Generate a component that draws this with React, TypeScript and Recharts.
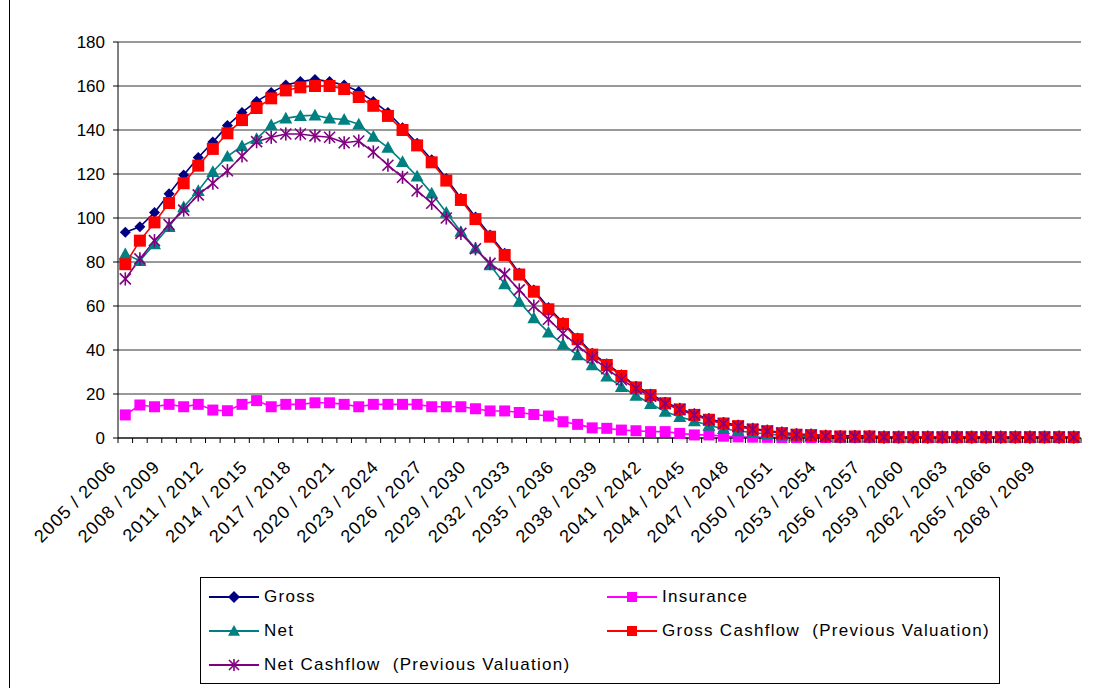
import React from 'react';
import { LineChart, Line, XAxis, YAxis, CartesianGrid } from 'recharts';

const categories = [
  '2005 / 2006', '2006 / 2007', '2007 / 2008', '2008 / 2009', '2009 / 2010', '2010 / 2011',
  '2011 / 2012', '2012 / 2013', '2013 / 2014', '2014 / 2015', '2015 / 2016', '2016 / 2017',
  '2017 / 2018', '2018 / 2019', '2019 / 2020', '2020 / 2021', '2021 / 2022', '2022 / 2023',
  '2023 / 2024', '2024 / 2025', '2025 / 2026', '2026 / 2027', '2027 / 2028', '2028 / 2029',
  '2029 / 2030', '2030 / 2031', '2031 / 2032', '2032 / 2033', '2033 / 2034', '2034 / 2035',
  '2035 / 2036', '2036 / 2037', '2037 / 2038', '2038 / 2039', '2039 / 2040', '2040 / 2041',
  '2041 / 2042', '2042 / 2043', '2043 / 2044', '2044 / 2045', '2045 / 2046', '2046 / 2047',
  '2047 / 2048', '2048 / 2049', '2049 / 2050', '2050 / 2051', '2051 / 2052', '2052 / 2053',
  '2053 / 2054', '2054 / 2055', '2055 / 2056', '2056 / 2057', '2057 / 2058', '2058 / 2059',
  '2059 / 2060', '2060 / 2061', '2061 / 2062', '2062 / 2063', '2063 / 2064', '2064 / 2065',
  '2065 / 2066', '2066 / 2067', '2067 / 2068', '2068 / 2069', '2069 / 2070', '2070 / 2071',
];

const gross = [
  93.5, 96, 102.5, 111, 119.5, 127.5, 134.5, 142, 148, 153, 157, 160.5, 162, 163, 162, 160.5,
  157.5, 153, 148, 141, 134, 126.5, 118, 109, 100.5, 92.3, 84, 75, 67.3, 59.3, 52.5, 45.5,
  38.5, 33.8, 28.8, 23.5, 20, 16.3, 13.4, 10.9, 8.7, 7, 5.8, 4.3, 3.4, 2.5, 1.8, 1.6, 1.1, 1,
  1, 1, 0.5, 0.5, 0.5, 0.5, 0.5, 0.5, 0.5, 0.5, 0.5, 0.5, 0.5, 0.5, 0.5, 0.5,
];

const insurance = [
  10.5, 15, 14.2, 15.3, 14.2, 15.3, 12.7, 12.4, 15.3, 17, 14.2, 15.3, 15.3, 16, 16, 15.3,
  14.2, 15.3, 15.3, 15.3, 15.3, 14.2, 14.2, 14.2, 13.3, 12.3, 12.3, 11.6, 10.7, 10, 7.4, 6.2,
  4.6, 4.4, 3.6, 3.3, 2.9, 2.9, 2.1, 1.4, 1.4, 0.8, 0.5, 0.4, 0.3, 0.2, 0.2, 0.2, 0.2, 0.2,
  0.2, 0.2, 0.2, 0.2, 0.2, 0.2, 0.2, 0.2, 0.2, 0.2, 0.2, 0.2, 0.2, 0.2, 0.2, 0.2,
];

const net = [
  83.6, 80.6, 88.2, 96, 105, 112.4, 121, 128, 132.7, 136, 142.3, 145.3, 146.4, 146.7, 145.3, 144.8,
  142.6, 137, 132, 125.6, 119, 111.2, 102.5, 93.8, 86.2, 78.6, 70, 62, 54.5, 48, 42.5, 37.7,
  33.2, 28, 23.3, 19.3, 15.6, 12, 9.6, 7.7, 5.7, 4.2, 3.2, 2.5, 1.8, 1.2, 0.8, 0.7, 0.5, 0.3,
  0.3, 0.3, 0.3, 0.3, 0.3, 0.3, 0.3, 0.3, 0.3, 0.3, 0.3, 0.3, 0.3, 0.3, 0.3, 0.3,
];

const grossCashflowPrev = [
  79, 89.7, 98, 106.8, 115.8, 123.8, 131.4, 138.5, 144.5, 150, 154.4, 158, 159.4, 160, 160, 158.6,
  155, 151, 146.4, 140, 133, 125.3, 117, 108.2, 99.5, 91.5, 83.2, 74.3, 66.5, 58.5, 51.8, 44.9,
  37.9, 33.2, 28.2, 23, 19.5, 15.8, 13, 10.5, 8.3, 6.6, 5.4, 3.9, 3.1, 2.2, 1.5, 1.3, 0.8, 0.7,
  0.7, 0.7, 0.4, 0.4, 0.4, 0.4, 0.4, 0.4, 0.4, 0.4, 0.4, 0.4, 0.4, 0.4, 0.4, 0.4,
];

const netCashflowPrev = [
  72.3, 81.4, 89.7, 97, 103.6, 110.5, 115.8, 121.5, 128.2, 134.7, 136.7, 138.2, 138.2, 137.3, 136.7, 134.2,
  135, 130, 124, 118.5, 112.4, 106.7, 100, 93, 86, 79.4, 74.5, 67.3, 60, 54, 47.5, 42,
  36.5, 31.5, 26.5, 22.5, 19, 15.6, 13, 10.5, 8.2, 6.5, 5.3, 3.9, 3.1, 2.2, 1.5, 1.3, 0.8, 0.6,
  0.6, 0.6, 0.4, 0.4, 0.4, 0.4, 0.4, 0.4, 0.4, 0.4, 0.4, 0.4, 0.4, 0.4, 0.4, 0.4,
];

const yTicks = [0, 20, 40, 60, 80, 100, 120, 140, 160, 180];

const data = categories.map((label, i) => ({
  label,
  gross: gross[i],
  insurance: insurance[i],
  net: net[i],
  grossCf: grossCashflowPrev[i],
  netCf: netCashflowPrev[i],
}));

const FONT = '"Liberation Sans", Arial, sans-serif';
const NAVY = '#000080';
const MAGENTA = '#FF00FF';
const TEAL = '#008080';
const RED = '#FF0000';
const PURPLE = '#800080';

// marker shapes
const diamondPath = (cx: number, cy: number, r: number) =>
  `M${cx},${cy - r}L${cx + r},${cy}L${cx},${cy + r}L${cx - r},${cy}Z`;
const squarePath = (cx: number, cy: number, r: number) =>
  `M${cx - r},${cy - r}H${cx + r}V${cy + r}H${cx - r}Z`;
const trianglePath = (cx: number, cy: number, r: number) =>
  `M${cx},${cy - r}L${cx + r},${cy + r * 0.8}L${cx - r},${cy + r * 0.8}Z`;

const Star = ({ cx, cy, r, color }: any) => (
  <g stroke={color} strokeWidth={1.6}>
    <line x1={cx - r} y1={cy - r} x2={cx + r} y2={cy + r} />
    <line x1={cx - r} y1={cy + r} x2={cx + r} y2={cy - r} />
    <line x1={cx} y1={cy - r * 1.2} x2={cx} y2={cy + r * 1.2} />
  </g>
);

const makeDot = (kind: string, color: string, r: number) => (p: any) => {
  const { cx, cy, index } = p;
  const k = `${kind}-${index}`;
  if (cx == null || cy == null) return <g key={k} />;
  if (kind === 'star') return <g key={k}><Star cx={cx} cy={cy} r={r} color={color} /></g>;
  const d = kind === 'diamond' ? diamondPath(cx, cy, r) : kind === 'square' ? squarePath(cx, cy, r) : trianglePath(cx, cy, r);
  return <path key={k} d={d} fill={color} />;
};

const XTick = (props: any) => {
  const { x, y, payload } = props;
  const i = payload?.index ?? props.index;
  const off = payload?.offset ? payload.offset : 7.3;
  const ax = x - 8;
  const ay = y + 30;
  return (
    <g>
      <line x1={x - off} y1={y} x2={x - off} y2={y + 5} stroke="#000" />
      {i === categories.length - 1 && <line x1={x + off} y1={y} x2={x + off} y2={y + 5} stroke="#000" />}
      {i % 3 === 0 && (
        <text x={ax} y={ay} transform={`rotate(-45 ${ax} ${ay})`} textAnchor="end" fontSize={18} letterSpacing={1.1} fontFamily={FONT} fill="#000">
          {payload.value}
        </text>
      )}
    </g>
  );
};

const LegendIcon = ({ kind, color }: { kind: string; color: string }) => (
  <svg width={50} height={16} style={{ display: 'block' }}>
    <line x1={0} y1={8} x2={50} y2={8} stroke={color} strokeWidth={2} />
    {kind === 'star' ? <Star cx={25} cy={8} r={5} color={color} /> :
      <path d={kind === 'diamond' ? diamondPath(25, 8, 6) : kind === 'square' ? squarePath(25, 8, 5) : trianglePath(25, 8, 6)} fill={color} />}
  </svg>
);

const legendItems = [
  { name: 'Gross', kind: 'diamond', color: NAVY, left: 8, top: 9 },
  { name: 'Insurance', kind: 'square', color: MAGENTA, left: 406, top: 9 },
  { name: 'Net', kind: 'triangle', color: TEAL, left: 8, top: 43 },
  { name: 'Gross Cashflow  (Previous Valuation)', kind: 'square', color: RED, left: 406, top: 43 },
  { name: 'Net Cashflow  (Previous Valuation)', kind: 'star', color: PURPLE, left: 8, top: 77 },
];

export default function App() {
  return (
    <div style={{ position: 'absolute', left: 0, top: 0, width: 1097, height: 688, background: '#fff', overflow: 'hidden' }}>
      <div style={{ position: 'absolute', left: 9, top: 0, width: 1, height: 688, background: '#000' }} />
      <LineChart width={1097} height={688} data={data} margin={{ top: 42, right: 16, left: 58, bottom: 110 }}>
        <CartesianGrid vertical={false} stroke="#333" />
        <XAxis
          dataKey="label"
          scale="band"
          interval={0}
          height={140}
          tickSize={0}
          tickMargin={0}
          tickLine={false}
          axisLine={{ stroke: '#000' }}
          tick={<XTick />}
        />
        <YAxis
          domain={[0, 180]}
          ticks={yTicks}
          width={60}
          tickSize={5}
          tickMargin={8}
          axisLine={{ stroke: '#000' }}
          tickLine={{ stroke: '#000' }}
          tick={{ fontSize: 17, fontFamily: FONT, fill: '#000' }}
        />
        <YAxis yAxisId="right" orientation="right" domain={[0, 180]} width={0} tick={false} tickLine={false} axisLine={{ stroke: '#808080' }} />
        <Line dataKey="gross" stroke={NAVY} strokeWidth={1.6} dot={makeDot('diamond', NAVY, 5.5)} isAnimationActive={false} />
        <Line dataKey="insurance" stroke={MAGENTA} strokeWidth={1.6} dot={makeDot('square', MAGENTA, 5.5)} isAnimationActive={false} />
        <Line dataKey="net" stroke={TEAL} strokeWidth={1.6} dot={makeDot('triangle', TEAL, 6.5)} isAnimationActive={false} />
        <Line dataKey="grossCf" stroke={RED} strokeWidth={1.6} dot={makeDot('square', RED, 6)} isAnimationActive={false} />
        <Line dataKey="netCf" stroke={PURPLE} strokeWidth={1.6} dot={makeDot('star', PURPLE, 5.5)} isAnimationActive={false} />
      </LineChart>
      <div style={{ position: 'absolute', left: 200, top: 577, width: 800, height: 107, border: '1px solid #000', boxSizing: 'border-box', background: '#fff', fontFamily: FONT, fontSize: 17, color: '#000' }}>
        {legendItems.map((it) => (
          <div key={it.name} style={{ position: 'absolute', left: it.left, top: it.top, display: 'flex', alignItems: 'center', whiteSpace: 'pre' }}>
            <LegendIcon kind={it.kind} color={it.color} />
            <span style={{ marginLeft: 5, letterSpacing: 1.3 }}>{it.name}</span>
          </div>
        ))}
      </div>
    </div>
  );
}
